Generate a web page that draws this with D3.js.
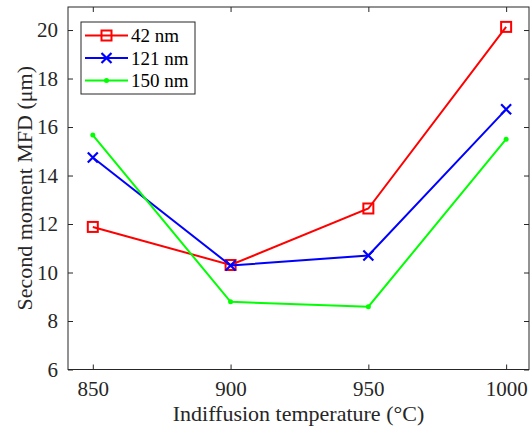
<!DOCTYPE html>
<html>
<head>
<meta charset="utf-8">
<script src="https://cdn.jsdelivr.net/npm/d3@7"></script>
<style>
	body { margin: 0; background: #fff; }
	svg, svg text { font-family: "Liberation Serif", "Times New Roman", serif; }
</style>
</head>
<body>
<svg id="chart" width="530" height="427"></svg>
<script>

var temps = [850, 900, 950, 1000];
var xTicks = [850, 900, 950, 1000];
var yTicks = [6, 8, 10, 12, 14, 16, 18, 20];

var mfd42 = [11.88, 10.31, 12.64, 20.13];
var mfd121 = [14.74, 10.29, 10.70, 16.73];
var mfd150 = [15.67, 8.79, 8.59, 15.50];

var series = [
	{ name: "42 nm", vals: mfd42, color: "#ff0000", mark: "square" },
	{ name: "121 nm", vals: mfd121, color: "#0000ff", mark: "cross" },
	{ name: "150 nm", vals: mfd150, color: "#00ff00", mark: "dot" },
];

var svg = d3.select("#chart");
var [ mT, mR, mB, mL ] = [ 7, 1, 57.5, 68 ];		// marginTop, marginRight, ...
var width = 530, height = 427;

var x = d3.scaleLinear([841, 1008.3], [ mL, width-mR ]);
var y = d3.scaleLinear([6, 20.95], [ height-mB, mT ]);

var axisColor = "#262626";

function styleAxis(g)	{
	g.attr("font-family", null).attr("font-size", null);
	g.select(".domain").remove();
	g.selectAll(".tick line").attr("stroke", axisColor);
	g.selectAll(".tick text").attr("fill", "#262626")
		.style("font-family", "'Liberation Serif', serif").style("font-size", "21px");
}

// bottom / top
svg.append("g")
	.attr("transform", `translate(0, ${height-mB})`)
	.call(d3.axisBottom(x).tickValues(xTicks).tickSize(-5).tickPadding(12).tickFormat(d3.format("d")))
	.call(styleAxis);
svg.append("g")
	.attr("transform", `translate(0, ${mT})`)
	.call(d3.axisTop(x).tickValues(xTicks).tickSize(-5).tickFormat(""))
	.call(styleAxis);
// left / right
svg.append("g")
	.attr("transform", `translate(${mL}, 0)`)
	.call(d3.axisLeft(y).tickValues(yTicks).tickSize(-5).tickPadding(10))
	.call(styleAxis);
svg.append("g")
	.attr("transform", `translate(${width-mR}, 0)`)
	.call(d3.axisRight(y).tickValues(yTicks).tickSize(-5).tickFormat(""))
	.call(styleAxis);

svg.append("rect")
	.attr("x", mL).attr("y", mT)
	.attr("width", width-mR-mL).attr("height", height-mB-mT)
	.attr("fill", "none").attr("stroke", axisColor).attr("stroke-width", 1);

var line = d3.line().x(d => x(d[0])).y(d => y(d[1]));

function drawMark(g, mark, color, cx, cy)	{
	if(mark === "square")
		g.append("rect").attr("x", cx-5).attr("y", cy-5).attr("width", 10).attr("height", 10)
			.attr("fill", "none").attr("stroke", color).attr("stroke-width", 2);
	else if(mark === "cross")
		g.append("path").attr("d", `M${cx-5},${cy-5}L${cx+5},${cy+5}M${cx-5},${cy+5}L${cx+5},${cy-5}`)
			.attr("stroke", color).attr("stroke-width", 2.2);
	else
		g.append("circle").attr("cx", cx).attr("cy", cy).attr("r", 2.5).attr("fill", color);
}

series.forEach(s => {
	var pts = temps.map((t, i) => [t, s.vals[i]]);
	var g = svg.append("g");
	g.append("path")
		.datum(pts)
		.attr("d", line)
		.attr("fill", "none")
		.attr("stroke", s.color)
		.attr("stroke-width", 2);
	pts.forEach(p => drawMark(g, s.mark, s.color, x(p[0]), y(p[1])));
});

// legend
var lg = svg.append("g").attr("transform", "translate(81, 22)");
lg.append("rect").attr("width", 114).attr("height", 72)
	.attr("fill", "#fff").attr("stroke", axisColor).attr("stroke-width", 1);
series.forEach((s, i) => {
	var ly = 13.5 + i * 22.5;
	lg.append("line").attr("x1", 4).attr("x2", 47).attr("y1", ly).attr("y2", ly)
		.attr("stroke", s.color).attr("stroke-width", 2);
	drawMark(lg, s.mark, s.color, 25.5, ly);
	lg.append("text").attr("x", 50).attr("y", ly).attr("dy", "0.35em")
		.style("font-size", "19px").attr("fill", "#000").text(s.name);
});

// axis labels
svg.append("text")
	.attr("x", (mL + width - mR) / 2).attr("y", 421)
	.attr("text-anchor", "middle").style("font-size", "22px").attr("fill", "#262626")
	.text("Indiffusion temperature (°C)");

svg.append("text")
	.attr("transform", `translate(32, ${(mT + height - mB) / 2}) rotate(-90)`)
	.attr("text-anchor", "middle").style("font-size", "22px").attr("fill", "#262626")
	.text("Second moment MFD (μm)");

</script>
</body>
</html>
